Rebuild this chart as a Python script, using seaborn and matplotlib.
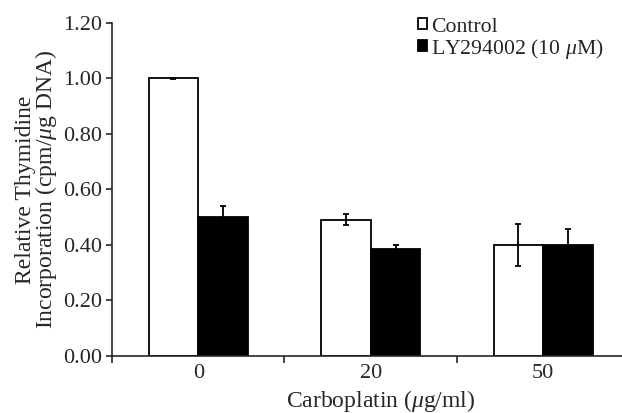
import matplotlib
matplotlib.use("Agg")
import matplotlib.pyplot as plt
import pandas as pd
import seaborn as sns

# Values
doses = ["0", "20", "50"]
control = [1.00, 0.49, 0.40]
control_err = [0.002, 0.02, 0.077]
ly = [0.50, 0.385, 0.40]
ly_err = [0.04, 0.015, 0.057]
groups = ["Control", "LY294002 (10 $\\mu$M)"]

sns.set_style("ticks")
plt.rcParams["font.family"] = ["Liberation Serif", "DejaVu Serif"]
plt.rcParams["mathtext.fontset"] = "custom"
plt.rcParams["mathtext.rm"] = "Liberation Serif"
plt.rcParams["mathtext.it"] = "Liberation Serif:italic"

df = pd.DataFrame({
    "dose": doses * 2,
    "value": control + ly,
    "group": [groups[0]] * 3 + [groups[1]] * 3,
})
errs = [control_err, ly_err]

fig = plt.figure(figsize=(6.22, 4.13), dpi=100)
ax = fig.add_axes([0.180, 0.138, 0.832, 0.807])

sns.barplot(data=df, x="dose", y="value", hue="group", order=doses,
            hue_order=groups, palette=["white", "black"], width=0.575,
            edgecolor="black", linewidth=1.3, errorbar=None, ax=ax)

# error bars on top of each bar
for cont, err in zip(ax.containers, errs):
    xs = [p.get_x() + p.get_width() / 2 for p in cont.patches]
    hs = [p.get_height() for p in cont.patches]
    ax.errorbar(xs, hs, yerr=err, fmt="none", ecolor="black",
                elinewidth=1.3, capsize=2.5, capthick=1.3, zorder=5)

ax.set_ylim(0, 1.2)
ax.set_yticks([0, 0.2, 0.4, 0.6, 0.8, 1.0, 1.2])
ax.set_yticklabels([f"{v:.2f}" for v in ax.get_yticks()])
ax.set_xlim(-0.5, 2.5)
ax.set_xticks([-0.5, 0.5, 1.5, 2.5], minor=True)
ax.tick_params(axis="x", which="major", length=0, pad=5.5, labelsize=16)
ax.tick_params(axis="x", which="minor", length=5, width=1.2, direction="out")
ax.tick_params(axis="y", length=4, width=1.2, direction="out", labelsize=16,
               pad=3)

for s in ["top", "right"]:
    ax.spines[s].set_visible(False)
for s in ["left", "bottom"]:
    ax.spines[s].set_linewidth(1.2)

ax.set_xlabel("Carboplatin ($\\mu$g/ml)", fontsize=17, labelpad=4, x=0.52)
ax.set_ylabel("Relative Thymidine\nIncorporation (cpm/$\\mu$g DNA)",
              fontsize=17, labelpad=3, linespacing=0.85)

h, l = ax.get_legend_handles_labels()
ax.legend(h, l, frameon=False, loc="upper left",
          bbox_to_anchor=(0.641, 1.005), bbox_transform=fig.transFigure,
          handlelength=0.42, handleheight=0.38, handletextpad=0.15,
          labelspacing=0.0, fontsize=15.7)

fig.savefig("out.png", dpi=100)
